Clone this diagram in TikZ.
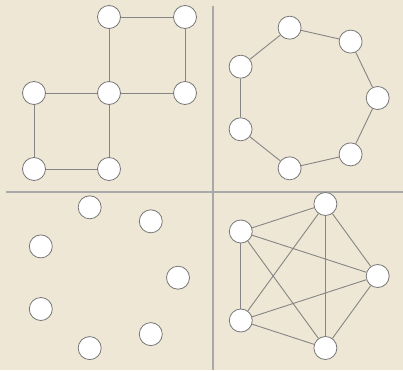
\documentclass[tikz,border=0pt]{standalone}
\usepackage{tikz}
\definecolor{paperColor}{HTML}{EFE7D5}
\definecolor{edgeColor}{HTML}{858585}
\definecolor{rimColor}{HTML}{777777}
\definecolor{ruleColor}{HTML}{A8A8A8}
\begin{document}
\begin{tikzpicture}[x=1pt, y=-1pt]
			\tikzset{
				vertice/.style={circle, draw=rimColor, fill=white, line width=0.8pt,
					minimum size=23pt, inner sep=0pt},
				aresta/.style={draw=edgeColor, line width=0.9pt},
				divisor/.style={draw=ruleColor, line width=2pt}
			}
			\fill[paperColor] (0,0) rectangle (403,370);
			\useasboundingbox (0,0) rectangle (403,370);
			\coordinate (hl) at (6,191.5);
			\coordinate (hr) at (403,191.5);
			\coordinate (vt) at (212.5,6);
			\coordinate (vb) at (212.5,370);
			\draw[divisor] (hl) -- (hr);
			\draw[divisor] (vt) -- (vb);
			% two squares sharing a corner
			\node[vertice] (q1) at (109,17) {};
			\node[vertice] (q2) at (185,17) {};
			\node[vertice] (q3) at (34,93) {};
			\node[vertice] (q4) at (109,93) {};
			\node[vertice] (q5) at (185,93) {};
			\node[vertice] (q6) at (34,169) {};
			\node[vertice] (q7) at (109,169) {};
			\draw[aresta] (q1) -- (q2);
			\draw[aresta] (q1) -- (q4);
			\draw[aresta] (q2) -- (q5);
			\draw[aresta] (q3) -- (q4);
			\draw[aresta] (q4) -- (q5);
			\draw[aresta] (q3) -- (q6);
			\draw[aresta] (q4) -- (q7);
			\draw[aresta] (q6) -- (q7);
			% seven-cycle
			\node[vertice] (h0) at (377.7,98) {};
			\node[vertice] (h1) at (350.6,41.6) {};
			\node[vertice] (h2) at (289.6,27.7) {};
			\node[vertice] (h3) at (240.6,66.7) {};
			\node[vertice] (h4) at (240.6,129.3) {};
			\node[vertice] (h5) at (289.6,168.3) {};
			\node[vertice] (h6) at (350.6,154.4) {};
			\draw[aresta] (h0) -- (h1);
			\draw[aresta] (h1) -- (h2);
			\draw[aresta] (h2) -- (h3);
			\draw[aresta] (h3) -- (h4);
			\draw[aresta] (h4) -- (h5);
			\draw[aresta] (h5) -- (h6);
			\draw[aresta] (h6) -- (h0);
			% seven isolated vertices
			\node[vertice] (p0) at (178,277.7) {};
			\node[vertice] (p1) at (150.8,221.3) {};
			\node[vertice] (p2) at (89.7,207.3) {};
			\node[vertice] (p3) at (40.8,246.4) {};
			\node[vertice] (p4) at (40.8,309) {};
			\node[vertice] (p5) at (89.7,348.1) {};
			\node[vertice] (p6) at (150.8,334.1) {};
			% complete graph on five vertices
			\node[vertice] (k0) at (377.7,276) {};
			\node[vertice] (k1) at (325.4,204) {};
			\node[vertice] (k2) at (240.8,231.5) {};
			\node[vertice] (k3) at (240.8,320.5) {};
			\node[vertice] (k4) at (325.4,348) {};
			\draw[aresta] (k0) -- (k1);
			\draw[aresta] (k0) -- (k2);
			\draw[aresta] (k0) -- (k3);
			\draw[aresta] (k0) -- (k4);
			\draw[aresta] (k1) -- (k2);
			\draw[aresta] (k1) -- (k3);
			\draw[aresta] (k1) -- (k4);
			\draw[aresta] (k2) -- (k3);
			\draw[aresta] (k2) -- (k4);
			\draw[aresta] (k3) -- (k4);
		\end{tikzpicture}
\end{document}
